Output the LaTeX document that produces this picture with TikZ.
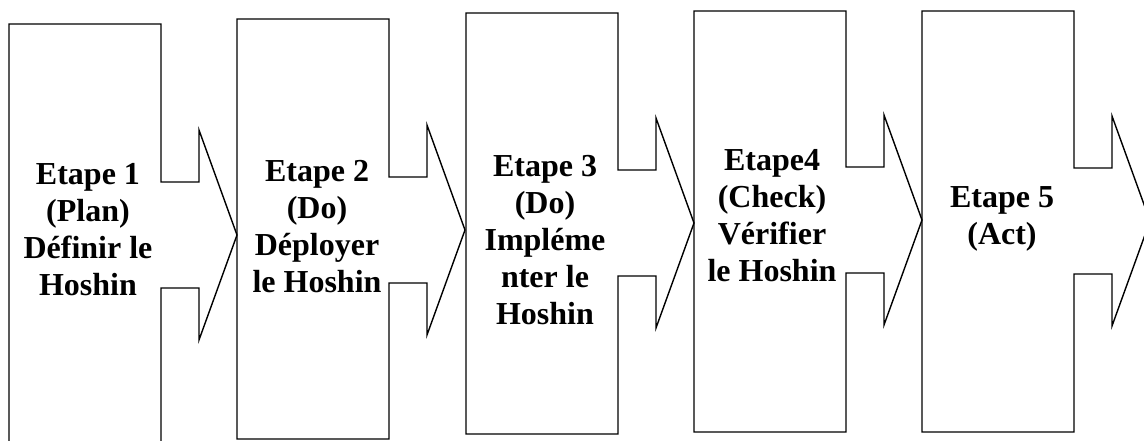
\documentclass[tikz,border=0pt]{standalone}
\usepackage{fontspec}
\setmainfont{Liberation Serif}
\tikzset{
  shapeline/.style={draw=black, line width=1.4pt, line join=miter},
  steplabel/.style={font=\fontsize{32}{37}\selectfont\bfseries, align=center, inner sep=0pt},
}
% #1 left x, #2 tip y, #3 top y, #4 bottom y
\newcommand\hoshinshape[4]{%
  \draw[shapeline] (#1,#3) -- (#1+152,#3) -- (#1+152,#2-53) -- (#1+190,#2-53)
    -- (#1+190,#2-105) -- (#1+228,#2) -- (#1+190,#2+105) -- (#1+190,#2+53)
    -- (#1+152,#2+53) -- (#1+152,#4) -- (#1,#4) -- cycle;}
\begin{document}
\begin{tikzpicture}[x=1pt,y=-1pt]
  \useasboundingbox (0,0) rectangle (1144,441);
  \clip (0,0) rectangle (1144,441);
  \fill[white] (0,0) rectangle (1144,441);
  \hoshinshape{9}{235}{24}{470}
  \hoshinshape{237}{230}{19}{439}
  \hoshinshape{466}{223}{13}{434}
  \hoshinshape{694}{220}{11}{432}
  \hoshinshape{922}{221}{11}{432}
  \node[steplabel] (s1) at (88,230) {Etape 1\\(Plan)\\Définir le\\Hoshin};
  \node[steplabel] (s2) at (317,227) {Etape 2\\(Do)\\Déployer\\le Hoshin};
  \node[steplabel] (s3) at (545,240) {Etape 3\\(Do)\\Impléme\\nter le\\Hoshin};
  \node[steplabel] (s4) at (772,216) {Etape4\\(Check)\\Vérifier\\le Hoshin};
  \node[steplabel] (s5) at (1002,219) {Etape 5\\(Act)};
\end{tikzpicture}
\end{document}
